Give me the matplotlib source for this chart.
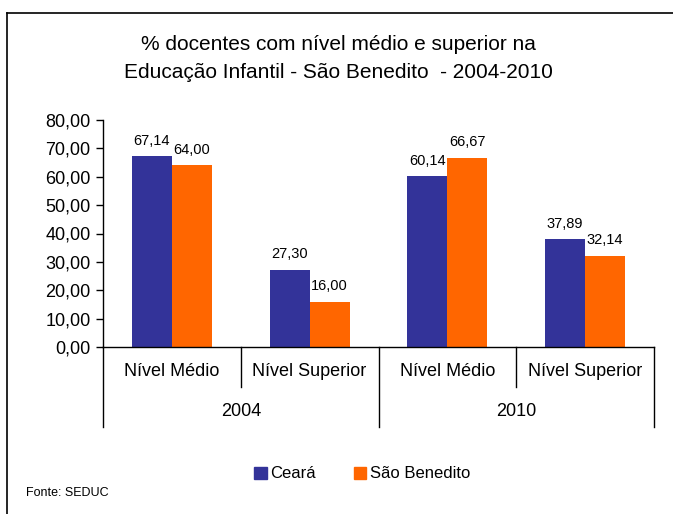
import matplotlib
matplotlib.use('Agg')
import matplotlib.pyplot as plt
from matplotlib.lines import Line2D
from matplotlib.patches import Patch

plt.rcParams['font.family'] = ['Liberation Sans', 'DejaVu Sans']

# dados
niveis = ['Nível Médio', 'Nível Superior', 'Nível Médio', 'Nível Superior']
anos = ['2004', '2010']
ceara = [67.14, 27.30, 60.14, 37.89]
sao_benedito = [64.00, 16.00, 66.67, 32.14]
yticks = [0, 10, 20, 30, 40, 50, 60, 70, 80]

azul = '#333399'
laranja = '#FF6600'

def virgula(v):
    return f'{v:.2f}'.replace('.', ',')

W, H = 673, 514
fig = plt.figure(figsize=(W / 100, H / 100), dpi=100)
ax = fig.add_axes([103 / W, 1 - 347 / H, (654 - 103) / W, (347 - 120) / H])

x = list(range(len(niveis)))
w = 0.29
b1 = ax.bar([i - w / 2 for i in x], ceara, w, color=azul)
b2 = ax.bar([i + w / 2 for i in x], sao_benedito, w, color=laranja)

for bars, vals in ((b1, ceara), (b2, sao_benedito)):
    for r, v in zip(bars, vals):
        ax.annotate(virgula(v), (r.get_x() + r.get_width() / 2, v),
                    xytext=(0, 6), textcoords='offset points',
                    ha='center', va='bottom', fontsize=10.5)

ax.set_xlim(-0.5, len(niveis) - 0.5)
ax.set_ylim(0, 80)
ax.set_yticks(yticks)
ax.set_yticklabels([virgula(v) for v in yticks], fontsize=13)
ax.tick_params(axis='y', direction='out', length=5, width=1, pad=4)
ax.set_xticks([])
for s in ('top', 'right'):
    ax.spines[s].set_visible(False)
ax.spines['left'].set_linewidth(1)
ax.spines['bottom'].set_linewidth(1)

# eixo de categorias em dois níveis
tr = ax.get_xaxis_transform()
h_plot = 347 - 120
for i, lab in enumerate(niveis):
    ax.text(i, -25 / h_plot, lab, transform=tr, ha='center', va='center', fontsize=13)
for k, ano in enumerate(anos):
    ax.text(2 * k + 0.5, -64 / h_plot, ano, transform=tr, ha='center', va='center', fontsize=13)
for xd in (0.5, 2.5):
    ax.plot([xd, xd], [0, -40 / h_plot], transform=tr, color='black', lw=1, clip_on=False)
for xd in (-0.5, 1.5, 3.5):
    ax.plot([xd, xd], [0, -80 / h_plot], transform=tr, color='black', lw=1, clip_on=False)

fig.text(338 / W, 1 - 44 / H, '% docentes com nível médio e superior na',
         ha='center', va='center', fontsize=15)
fig.text(338 / W, 1 - 72 / H, 'Educação Infantil - São Benedito  - 2004-2010',
         ha='center', va='center', fontsize=15)

handles = [Patch(color=azul), Patch(color=laranja)]
fig.legend(handles, ['Ceará', 'São Benedito'], loc='center',
           bbox_to_anchor=(362 / W, 1 - 474 / H), ncol=2, frameon=False,
           fontsize=12, handlelength=0.75, handleheight=0.75, handletextpad=0.2,
           columnspacing=2.3)

fig.text(26 / W, 1 - 493 / H, 'Fonte: SEDUC', ha='left', va='center', fontsize=9)

# moldura
fig.add_artist(Line2D([7 / W, 1], [1 - 13 / H, 1 - 13 / H], color='black', lw=1.2))
fig.add_artist(Line2D([7 / W, 7 / W], [0, 1 - 13 / H], color='black', lw=1.2))

fig.savefig('out.png', dpi=100)
